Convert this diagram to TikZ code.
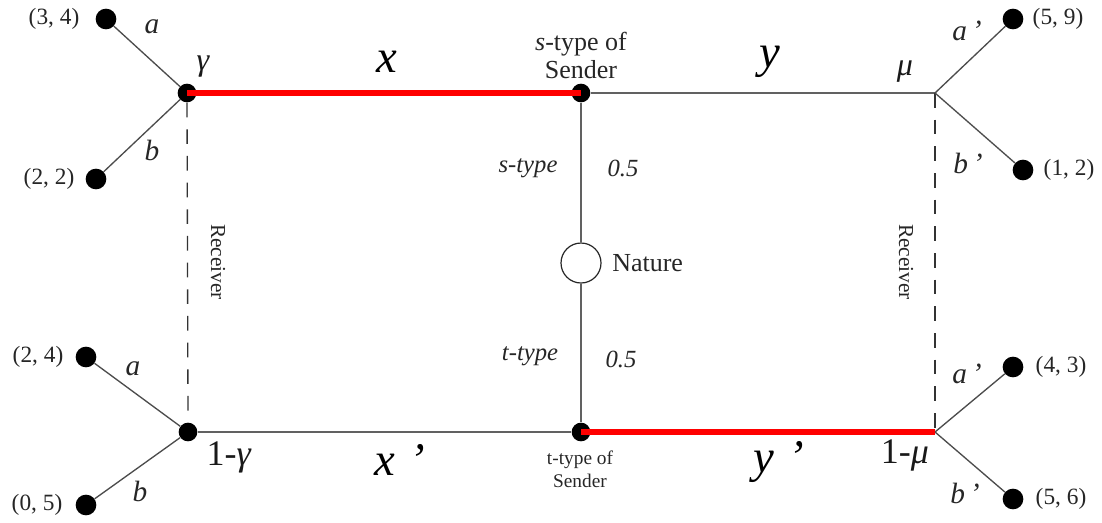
\documentclass[tikz,border=0pt]{standalone}
\usepackage{fontspec}
\setmainfont{Liberation Serif}
\begin{document}
\begin{tikzpicture}[x=0.75pt,y=-0.75pt,
  dec/.style={circle,fill=black,inner sep=0pt,minimum size=14pt},
  leaf/.style={circle,fill=black,inner sep=0pt,minimum size=15.5pt},
  chance/.style={circle,draw=black!85,line width=0.9pt,fill=white,inner sep=0pt,minimum size=30pt},
  mainline/.style={draw=black!62,line width=1.5pt},
  branch/.style={draw=black!70,line width=1pt},
  redline/.style={draw=red,line width=4.5pt},
  infoset/.style={draw=black!80,line width=1pt,dash pattern=on 11pt off 9pt},
  pay/.style={font=\fontsize{17.5}{20}\selectfont,text=black!85,inner sep=0pt},
  act/.style={font=\fontsize{22}{24}\selectfont\itshape,text=black!85,inner sep=0pt},
  gr/.style={font=\fontsize{24}{26}\selectfont\itshape,text=black!90,inner sep=0pt},
  onem/.style={font=\fontsize{27}{29}\selectfont,text=black!90,inner sep=0pt},
  big/.style={font=\fontsize{35}{37}\selectfont\itshape,text=black,inner sep=0pt},
  prob/.style={font=\fontsize{18.5}{21}\selectfont\itshape,text=black!85,inner sep=0pt},
  small/.style={text=black!85,inner sep=0pt,align=center}
]
\useasboundingbox (0,0) rectangle (1102,522);

% decision nodes and junctions
\node[dec] (g) at (187,93) {};
\node[dec] (s) at (581,93) {};
\coordinate (m) at (935,93);
\node[dec] (g2) at (188,432) {};
\node[dec] (t) at (581,432) {};
\coordinate (m2) at (935,432);
\node[chance] (n) at (581,263) {};

% leaves
\node[leaf] (l1) at (106,19) {};
\node[leaf] (l2) at (96,179) {};
\node[leaf] (l3) at (86,357) {};
\node[leaf] (l4) at (86,505) {};
\node[leaf] (r1) at (1013,19) {};
\node[leaf] (r2) at (1023,170) {};
\node[leaf] (r3) at (1013,367) {};
\node[leaf] (r4) at (1013,499) {};

% main gray lines
\draw[mainline] (s) -- (m);
\draw[mainline] (g2) -- (t);
\draw[mainline] (s) -- (n);
\draw[mainline] (n) -- (t);

% information sets
\draw[infoset] (g.south) -- (g2.north);
\draw[infoset] (m) -- (m2);

% branches
\draw[branch] (g) -- (l1);
\draw[branch] (g) -- (l2);
\draw[branch] (g2) -- (l3);
\draw[branch] (g2) -- (l4);
\draw[branch] (m) -- (r1);
\draw[branch] (m) -- (r2);
\draw[branch] (m2) -- (r3);
\draw[branch] (m2) -- (r4);

% red equilibrium path
\draw[redline] (g.center) -- (s.center);
\draw[redline] (t.center) -- (m2);

% payoffs
\node[pay] (p1) at (54,19) {(3, 4)};
\node[pay] (p2) at (49,179) {(2, 2)};
\node[pay] (p3) at (38,357) {(2, 4)};
\node[pay] (p4) at (37,505) {(0, 5)};
\node[pay] (q1) at (1058,19) {(5, 9)};
\node[pay] (q2) at (1069,170) {(1, 2)};
\node[pay] (q3) at (1061,367) {(4, 3)};
\node[pay] (q4) at (1061,499) {(5, 6)};

% action labels
\node[act] (la1) at (152,27) {a};
\node[act] (lb1) at (152,150) {b};
\node[act] (la2) at (133,369) {a};
\node[act] (lb2) at (140,491) {b};
\node[act] (ra1) at (967,31) {a\,’};
\node[act] (rb1) at (968,163) {b\,’};
\node[act] (ra2) at (967,374) {a\,’};
\node[act] (rb2) at (965,493) {b\,’};

% beliefs
\node[gr] (gam) at (203,67) {γ};
\node[gr] (mu) at (905,72) {μ};
\node[onem] (gam2) at (229,457) {1-\textit{γ}};
\node[onem] (mu2) at (905,455) {1-\textit{μ}};

% messages
\node[big] (x) at (387,62) {x};
\node[big] (y) at (770,62) {y};
\node[big] (x2) at (400,460) {x\hspace{0.3em}’};
\node[big] (y2) at (779,462) {y\hspace{0.3em}’};

% sender types
\node[small,font=\fontsize{19.5}{21}\selectfont] (st) at (581,55) {\textit{s}-type of\\Sender};
\node[small,font=\fontsize{14.5}{17}\selectfont] (tt) at (580,469) {t-type of\\Sender};

% nature
\node[prob] (ps) at (528,168) {s-type};
\node[prob] (p05a) at (623,168) {0.5};
\node[prob] (pt) at (530,356) {t-type};
\node[prob] (p05b) at (621,359) {0.5};
\node[small,font=\fontsize{19.5}{21}\selectfont,anchor=west] (nat) at (612,263) {Nature};

% receivers
\node[small,font=\fontsize{16}{18}\selectfont,rotate=-90] (rec1) at (218,262) {Receiver};
\node[small,font=\fontsize{16}{18}\selectfont,rotate=-90] (rec2) at (906,262) {Receiver};
\end{tikzpicture}
\end{document}
